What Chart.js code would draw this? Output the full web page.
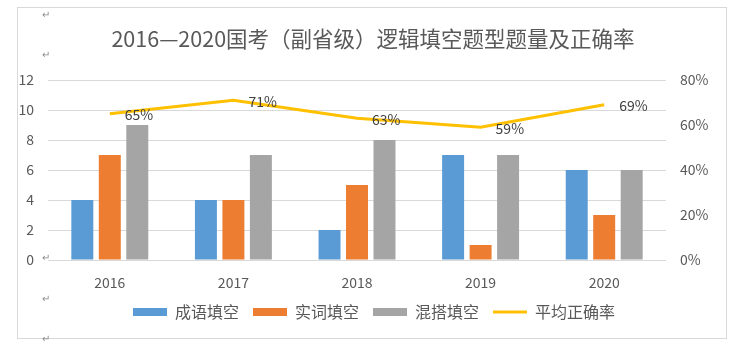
<!DOCTYPE html>
<html>
<head>
<meta charset="utf-8">
<script src="https://cdn.jsdelivr.net/npm/chart.js@4/dist/chart.umd.min.js"></script>
<style>
html,body{margin:0;padding:0;background:#fff;}
#wrap{position:relative;width:748px;height:348px;}
</style>
</head>
<body>
<div id="wrap"><canvas id="c" width="748" height="348"></canvas></div>
<script>
const titleText = '2016—2020国考（副省级）逻辑填空题型题量及正确率';
const categories = ['2016', '2017', '2018', '2019', '2020'];
const idiomFill = [4, 4, 2, 7, 6];      // 成语填空
const wordFill = [7, 4, 5, 1, 3];       // 实词填空
const mixedFill = [9, 7, 8, 7, 6];      // 混搭填空
const accuracy = [0.65, 0.71, 0.63, 0.59, 0.69]; // 平均正确率
const seriesNames = ['成语填空', '实词填空', '混搭填空', '平均正确率'];

const FONT = '"Noto Sans CJK SC", "Noto Sans", sans-serif';

const decor = {
  id: 'decor',
  beforeDraw(chart) {
    const ctx = chart.ctx;
    ctx.save();
    ctx.fillStyle = '#ffffff';
    ctx.fillRect(0, 0, chart.width, chart.height);
    ctx.strokeStyle = '#D9D9D9';
    ctx.lineWidth = 1;
    ctx.strokeRect(17.5, 7.5, 709, 331);
    ctx.fillStyle = '#595959';
    ctx.font = '21.5px ' + FONT;
    ctx.textAlign = 'center';
    ctx.textBaseline = 'middle';
    ctx.fillText(titleText, 373, 39);
    ctx.fillStyle = '#8c8c8c';
    ctx.font = '10px ' + FONT;
    [14, 54, 257, 298, 338].forEach(y => ctx.fillText('↵', 46, y));
    ctx.restore();
  },
  afterDatasetsDraw(chart) {
    const ctx = chart.ctx;
    const meta = chart.getDatasetMeta(3);
    ctx.save();
    ctx.fillStyle = '#404040';
    ctx.font = '14px ' + FONT;
    ctx.textAlign = 'left';
    ctx.textBaseline = 'middle';
    meta.data.forEach((pt, i) => {
      ctx.fillText(Math.round(accuracy[i] * 100) + '%', pt.x + 15, pt.y + 1);
    });
    ctx.restore();
  }
};

new Chart(document.getElementById('c'), {
  type: 'bar',
  data: {
    labels: categories,
    datasets: [
      { label: seriesNames[0], data: idiomFill, backgroundColor: '#5B9BD5', yAxisID: 'y', order: 2,
        categoryPercentage: 0.667, barPercentage: 0.8, borderWidth: 0 },
      { label: seriesNames[1], data: wordFill, backgroundColor: '#ED7D31', yAxisID: 'y', order: 2,
        categoryPercentage: 0.667, barPercentage: 0.8, borderWidth: 0 },
      { label: seriesNames[2], data: mixedFill, backgroundColor: '#A5A5A5', yAxisID: 'y', order: 2,
        categoryPercentage: 0.667, barPercentage: 0.8, borderWidth: 0 },
      { label: seriesNames[3], data: accuracy, type: 'line', borderColor: '#FFC000', backgroundColor: '#FFC000',
        borderWidth: 3, pointRadius: 0, tension: 0, yAxisID: 'y1', order: 1 }
    ]
  },
  options: {
    responsive: false,
    animation: false,
    devicePixelRatio: 1,
    layout: { padding: { top: 80, left: 0, right: 0, bottom: 18 } },
    plugins: {
      title: { display: false },
      tooltip: { enabled: false },
      legend: {
        position: 'bottom',
        labels: {
          usePointStyle: true,
          pointStyleWidth: 34,
          boxWidth: 34,
          boxHeight: 8,
          padding: 14,
          color: '#595959',
          font: { family: FONT, size: 16 },
          sort: (a, b) => a.datasetIndex - b.datasetIndex,
          generateLabels(chart) {
            const items = Chart.defaults.plugins.legend.labels.generateLabels(chart);
            items.forEach(it => {
              const i = it.datasetIndex;
              it.pointStyle = i === 3 ? 'line' : 'rect';
              it.lineWidth = i === 3 ? 3 : 0;
              it.fillStyle = chart.data.datasets[i].backgroundColor;
              it.strokeStyle = chart.data.datasets[i].backgroundColor;
            });
            return items;
          }
        }
      }
    },
    scales: {
      x: {
        grid: { display: false, drawTicks: false },
        border: { display: false },
        ticks: { color: '#595959', font: { family: FONT, size: 14 }, padding: 14 },
        afterFit(s) { s.height = 30; }
      },
      y: {
        position: 'left',
        min: 0, max: 12,
        ticks: { stepSize: 2, color: '#595959', font: { family: FONT, size: 14 }, padding: 14 },
        grid: { color: '#D9D9D9', drawTicks: false },
        border: { display: false },
        afterFit(s) { s.width = 48; }
      },
      y1: {
        position: 'right',
        min: 0, max: 0.8,
        ticks: { stepSize: 0.2, color: '#595959', font: { family: FONT, size: 14 }, padding: 14,
          callback: v => Math.round(v * 100) + '%' },
        grid: { display: false, drawTicks: false },
        border: { display: false },
        afterFit(s) { s.width = 82; }
      }
    }
  },
  plugins: [decor]
});
</script>
</body>
</html>
